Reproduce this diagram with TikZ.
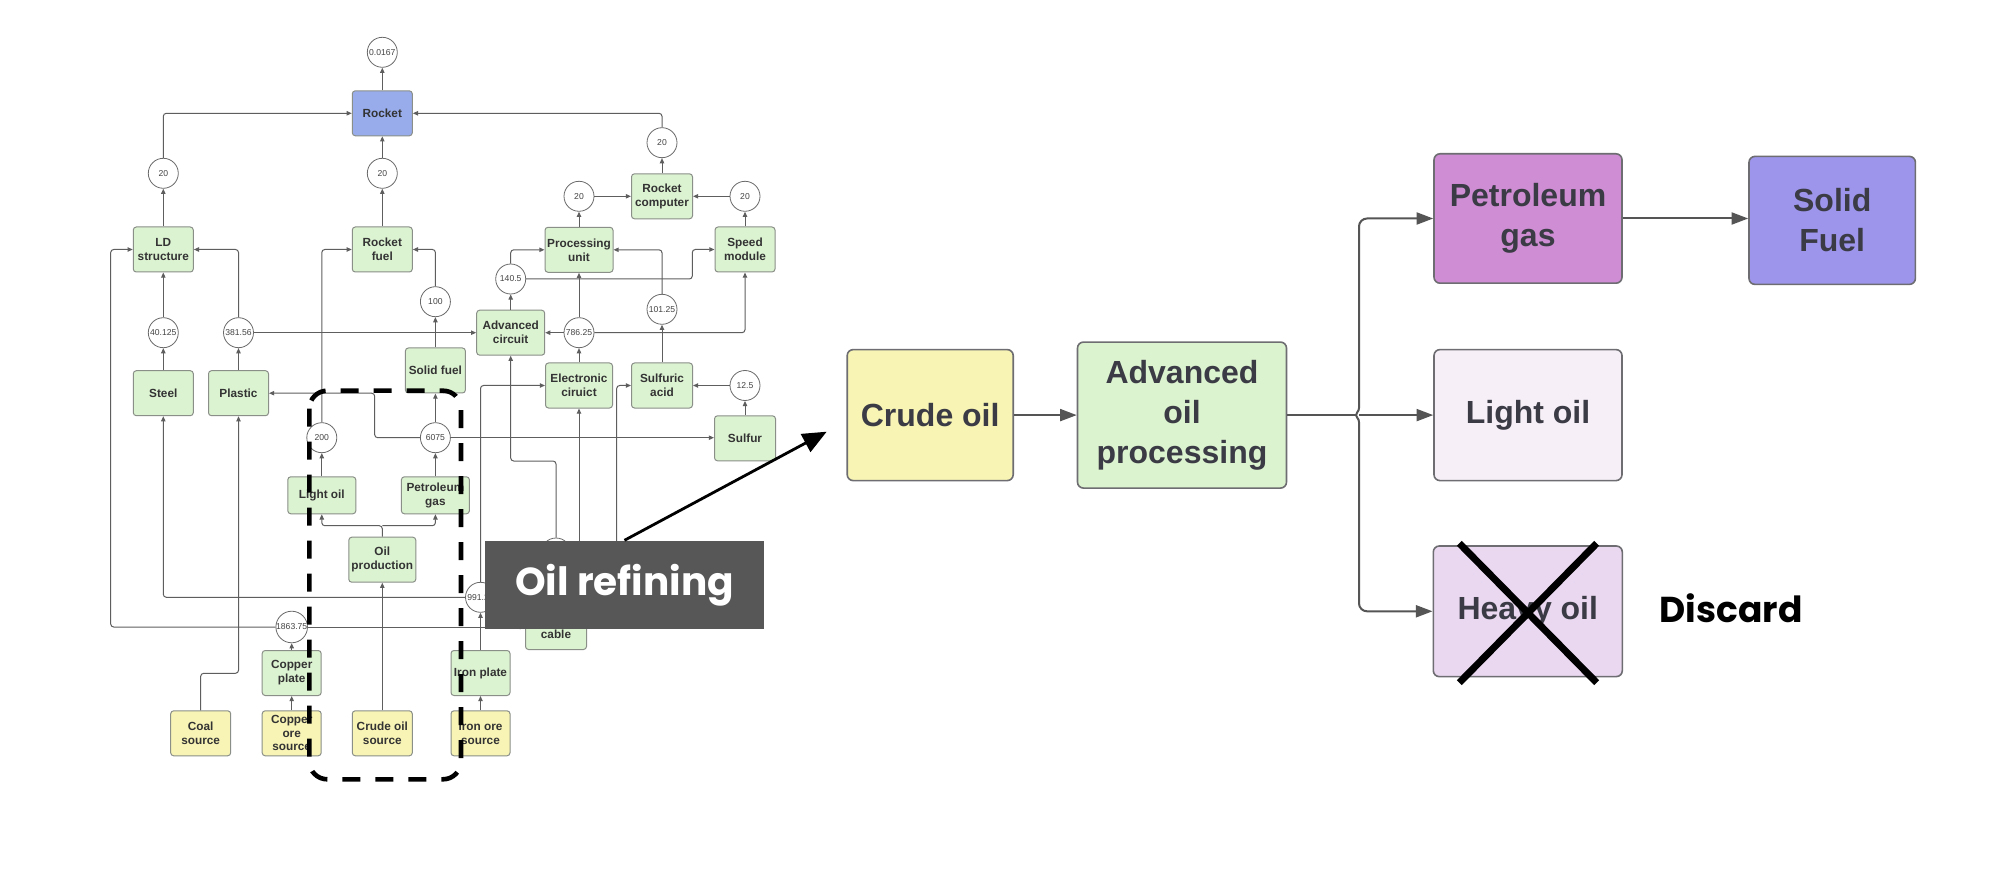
\documentclass[tikz,border=0pt]{standalone}
\usepackage{fontspec}
\setmainfont{Liberation Sans}
\newfontfamily\popp{Poppins}
\usetikzlibrary{arrows.meta,calc}
\definecolor{lgreen}{HTML}{DCF3D1}
\definecolor{lyellow}{HTML}{F8F4B6}
\definecolor{rocketblue}{HTML}{98ACEC}
\definecolor{boxline}{HTML}{8A8F88}
\definecolor{circline}{HTML}{6A6A6A}
\definecolor{ltext}{HTML}{333333}
\definecolor{ctext}{HTML}{444444}
\definecolor{lline}{HTML}{5E5E5E}
\definecolor{rcrude}{HTML}{F7F4B4}
\definecolor{radv}{HTML}{DCF3CF}
\definecolor{rpg}{HTML}{CF8DD3}
\definecolor{rsf}{HTML}{9C95EB}
\definecolor{rlo}{HTML}{F6EFF8}
\definecolor{rho}{HTML}{EAD8F0}
\definecolor{rline}{HTML}{6E6E72}
\definecolor{rtext}{HTML}{3B3B45}
\definecolor{rarrow}{HTML}{555555}
\definecolor{refgray}{HTML}{575757}
\begin{document}
\begin{tikzpicture}[x=0.5pt,y=-0.5pt,
  bx/.style={draw=boxline, line width=0.5pt, rounded corners=1.5pt, fill=lgreen,
    minimum width=30pt, minimum height=22.5pt, inner sep=0pt, align=center,
    font=\bfseries\fontsize{5.9}{7}\selectfont, text=ltext},
  ybx/.style={bx, fill=lyellow},
  cn/.style={circle, draw=circline, line width=0.4pt, fill=white, minimum size=15pt,
    inner sep=0pt, font=\fontsize{4.3}{5}\selectfont, text=ctext},
  ln/.style={draw=lline, line width=0.5pt, -{Triangle[length=2.6pt,width=2.2pt]}, rounded corners=1.5pt},
  rb/.style={draw=rline, line width=0.8pt, rounded corners=3pt, inner sep=0pt, align=center,
    font=\bfseries\fontsize{16}{20}\selectfont, text=rtext},
  rl/.style={draw=rarrow, line width=1pt, -{Triangle[length=8.3pt,width=6pt]}, rounded corners=4pt}
]
\useasboundingbox (0,0) rectangle (2009,877);
\fill[white] (0,0) rectangle (2009,877);

% ---------- left diagram: boxes ----------
\node[bx, fill=rocketblue] (rocket) at (382.3,113.3) {Rocket};
\node[bx] (ld) at (163.3,249.5) {LD\\structure};
\node[bx] (rf) at (382.3,249.5) {Rocket\\fuel};
\node[bx] (steel) at (163.3,393.2) {Steel};
\node[bx] (plastic) at (238.5,393.2) {Plastic};
\node[bx] (sfuel) at (435.4,370.5) {Solid fuel};
\node[bx, minimum width=34pt] (ac) at (510.7,332.7) {Advanced\\circuit};
\node[bx, minimum width=34pt] (pu) at (579,249.8) {Processing\\unit};
\node[bx, minimum width=30.5pt] (rc) at (662,196.3) {Rocket\\computer};
\node[bx] (sm) at (745,249.5) {Speed\\module};
\node[bx, minimum width=33.5pt] (ec) at (579,385.5) {Electronic\\ciruict};
\node[bx, minimum width=30.5pt] (sa) at (662,385.5) {Sulfuric\\acid};
\node[bx, minimum width=30.5pt] (sulfur) at (745,438.3) {Sulfur};
\node[bx, minimum width=34pt, minimum height=18.5pt] (lo) at (321.8,495.3) {Light oil};
\node[bx, minimum width=34pt, minimum height=18.5pt] (pg) at (435.4,495.3) {Petroleum\\gas};
\node[bx, minimum width=33.5pt] (op) at (382.3,559.7) {Oil\\production};
\node[bx, minimum width=29.5pt] (cp) at (291.7,673) {Copper\\plate};
\node[bx, minimum width=29.5pt] (ip) at (480.5,673) {Iron plate};
\node[bx, minimum width=30.5pt] (cable) at (556,627) {Copper\\cable};
\node[ybx] (coal) at (200.7,733.3) {Coal\\source};
\node[ybx, minimum width=29.5pt, font=\bfseries\fontsize{5.9}{6.75}\selectfont] (cos) at (291.7,733.3) {Copper\\ore\\source};
\node[ybx] (crs) at (382.3,733.3) {Crude oil\\source};
\node[ybx, minimum width=29.5pt] (ios) at (480.5,733.3) {Iron ore\\source};

% ---------- circles ----------
\node[cn] (c0167) at (382.3,52.3) {0.0167};
\node[cn] (c20a) at (163.3,173.3) {20};
\node[cn] (c20b) at (382.3,173.3) {20};
\node[cn] (c20c) at (662,142.7) {20};
\node[cn] (c20d) at (579,196.3) {20};
\node[cn] (c20e) at (745,196.3) {20};
\node[cn] (c100) at (435.4,301.7) {100};
\node[cn] (c1405) at (510.7,279) {140.5};
\node[cn] (c78625) at (579,332.7) {786.25};
\node[cn] (c10125) at (662,309.3) {101.25};
\node[cn] (c40125) at (163.3,332.7) {40.125};
\node[cn] (c38156) at (238.5,332.7) {381.56};
\node[cn] (c125) at (745,385.5) {12.5};
\node[cn] (c200) at (321.8,437.7) {200};
\node[cn] (c6075) at (435.4,437.7) {6075};
\node[cn] (c991) at (480.5,597.3) {991.25};
\node[cn] (c1863) at (291.7,627) {1863.75};
\node[cn] (ccab) at (556,553) {};
\coordinate (h1) at (579,578);
\coordinate (h2) at (616.7,578);

% ---------- connectors ----------
\draw[ln] (rocket.north) -- (c0167.south);
\draw[ln] (c20b.north) -- (rocket.south);
\draw[ln] (c20a.north) |- (rocket.west);
\draw[ln] (c20c.north) |- (rocket.east);
\draw[ln] (ld.north) -- (c20a.south);
\draw[ln] (rf.north) -- (c20b.south);
\draw[ln] (rc.north) -- (c20c.south);
\draw[ln] (c20d.east) -- (c20d.east -| rc.west);
\draw[ln] (c20e.west) -- (c20e.west -| rc.east);
\draw[ln] (pu.north) -- (c20d.south);
\draw[ln] (sm.north) -- (c20e.south);
\draw[ln] (c1405.north) |- (pu.west);
\draw[ln] (c1405.east) -- (692.3,279) |- (sm.west);
\draw[ln] (ac.north) -- (c1405.south);
\draw[ln] (c78625.north) -- (pu.south);
\draw[ln] (c78625.west) -- (c78625.west -| ac.east);
\draw[ln] (c78625.east) -| (sm.south);
\draw[ln] (c10125.north) |- (pu.east);
\draw[ln] (ec.north) -- (c78625.south);
\draw[ln] (sa.north) -- (c10125.south);
\draw[ln] (c125.west) -- (c125.west -| sa.east);
\draw[ln] (sulfur.north) -- (c125.south);
\draw[ln] (c38156.east) -- (c38156.east -| ac.west);
\draw[ln] (c38156.north) |- (ld.east);
\draw[ln] (c40125.north) -- (ld.south);
\draw[ln] (steel.north) -- (c40125.south);
\draw[ln] (plastic.north) -- (c38156.south);
\draw[ln] (c100.north) |- (rf.east);
\draw[ln] (sfuel.north) -- (c100.south);
\draw[ln] (c6075.north) -- (sfuel.south);
\draw[ln] (c6075.west) -- (374.7,437.7) |- (plastic.east);
\draw[ln] (c6075.east) -- (c6075.east -| sulfur.west);
\draw[ln] (pg.north) -- (c6075.south);
\draw[ln] (lo.north) -- (c200.south);
\draw[ln] (c200.north) |- (rf.west);
\draw[ln] (op.north) -- (382.3,525.7) -| (lo.south);
\draw[ln] (382.3,525.7) -| (pg.south);
\draw[ln] (crs.north) -- (op.south);
\draw[ln] (ios.north) -- (ip.south);
\draw[ln] (cos.north) -- (cp.south);
\draw[ln] (ip.north) -- (c991.south);
\draw[ln] (c991.north) |- (ec.west);
\draw[ln] (c991.west) -| (steel.south);
\draw[ln] (cp.north) -- (c1863.south);
\draw[ln] (c1863.west) -- (110.7,627) |- (ld.west);
\draw[ln] (c1863.east) -- (c1863.east -| cable.west);
\draw[ln] (coal.north) -- (200.7,673.3) -| (plastic.south);
\draw[ln] (ccab.north) -- (556,461) -| (ac.south);
\draw[ln] (cable.north) -- (ccab.south);
\draw[ln] (h1) -- (ec.south);
\draw[ln] (h2) |- (sa.west);

% ---------- dashed highlight ----------
\draw[line width=2.3pt, dash pattern=on 9pt off 7.5pt, rounded corners=9pt] (309.3,390.7) rectangle (461,779.3);

% ---------- Oil refining label and arrow ----------
\node[fill=refgray, minimum width=139.8pt, minimum height=44.15pt, inner sep=0pt, text=white,
  font=\popp\bfseries\fontsize{19.5}{20}\selectfont] (orf) at (624.5,584.85) {Oil refining};
\coordinate (tipc) at (826.7,431.7);
\draw[line width=1.4pt, -{Triangle[length=12pt,width=10pt]}] (orf.north) -- (tipc);

% ---------- right diagram ----------
\node[rb, fill=rcrude, minimum width=83pt, minimum height=65.5pt] (crude) at (930.2,415.1) {Crude oil};
\node[rb, fill=radv, minimum width=104.5pt, minimum height=73pt] (adv) at (1182,415.1) {Advanced\\oil\\processing};
\node[rb, fill=rpg, minimum width=94pt, minimum height=64.7pt] (rpgn) at (1528,218.5) {Petroleum\\gas};
\node[rb, fill=rsf, minimum width=83.2pt, minimum height=64pt] (rsfn) at (1832.2,220.4) {Solid\\Fuel};
\node[rb, fill=rlo, minimum width=94pt, minimum height=65.5pt] (rlon) at (1528,415.1) {Light oil};
\node[rb, fill=rho, minimum width=94.5pt, minimum height=65.3pt] (rhon) at (1527.8,611.3) {Heavy oil};

\draw[rl] (crude.east) -- (adv.west);
\draw[draw=rarrow, line width=1.2pt] (adv.east) -- (1356,415.1);
\draw[rl] (1359,415.1) -- (rlon.west);
\draw[rl] (1359,408) -- (1359,218.5) -- (rpgn.west);
\draw[rl] (1359,422) -- (1359,611.3) -- (rhon.west);
\draw[draw=rarrow, line width=1pt] (1359,408) .. controls (1359,412) and (1356,412) .. (1356,415.1) .. controls (1356,418) and (1359,418) .. (1359,422);
\draw[rl] (rpgn.east) -- (rpgn.east -| rsfn.west);

\draw[line width=3.5pt] (1459.3,543.3) -- (1596.7,682.7);
\draw[line width=3.5pt] (1596.7,543.3) -- (1459.3,682.7);
\node[anchor=base west, inner sep=0pt, font=\popp\bfseries\fontsize{18}{20}\selectfont] (disc) at (1659.3,622.7) {Discard};
\end{tikzpicture}
\end{document}
